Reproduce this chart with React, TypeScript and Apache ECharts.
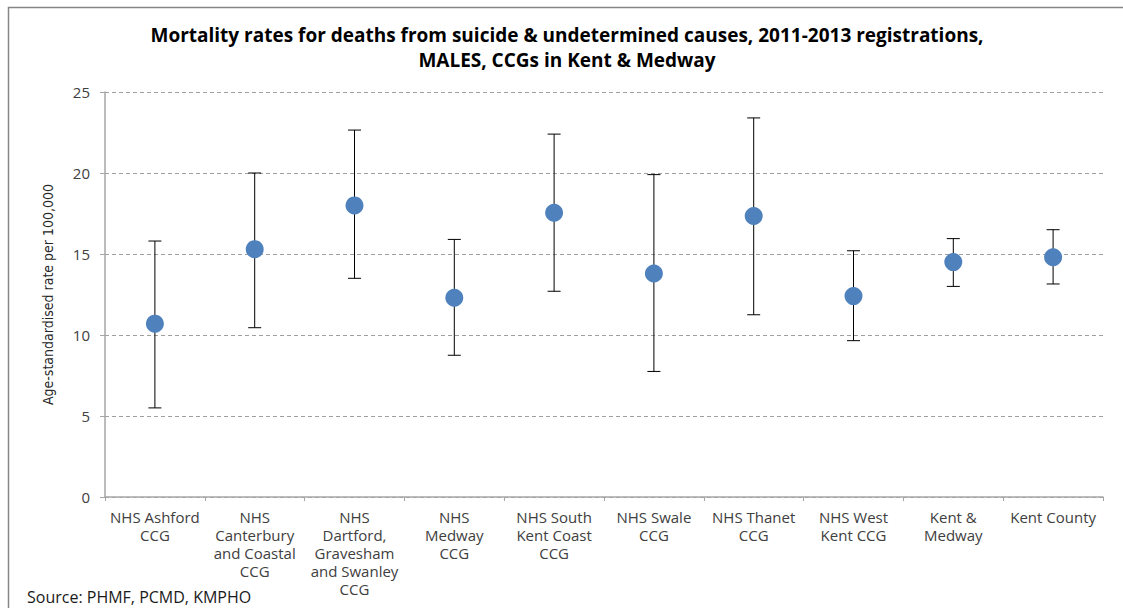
import React, { useEffect, useRef } from "react";
import * as echarts from "echarts";

const categories = [
  "NHS Ashford\nCCG",
  "NHS\nCanterbury\nand Coastal\nCCG",
  "NHS\nDartford,\nGravesham\nand Swanley\nCCG",
  "NHS\nMedway\nCCG",
  "NHS South\nKent Coast\nCCG",
  "NHS Swale\nCCG",
  "NHS Thanet\nCCG",
  "NHS West\nKent CCG",
  "Kent &\nMedway",
  "Kent County",
];
const rates = [10.7, 15.3, 18.0, 12.3, 17.55, 13.8, 17.35, 12.4, 14.5, 14.8];
const lowerCI = [5.5, 10.45, 13.5, 8.75, 12.7, 7.75, 11.25, 9.65, 13.0, 13.15];
const upperCI = [15.8, 20.0, 22.65, 15.9, 22.4, 19.9, 23.4, 15.2, 15.95, 16.5];
const yTicks = { min: 0, max: 25, interval: 5 };

const FONT = "'Open Sans', 'Liberation Sans', sans-serif";

export default function App() {
  const ref = useRef<HTMLDivElement>(null);
  useEffect(() => {
    document.body.style.margin = "0";
    const chart = echarts.init(ref.current!, null, { renderer: "svg" });
    const errData = categories.map((_, i) => [i, lowerCI[i], upperCI[i]]);
    chart.setOption({
      animation: false,
      backgroundColor: "#ffffff",
      title: {
        text: "Mortality rates for deaths from suicide & undetermined causes, 2011-2013 registrations,\nMALES, CCGs in Kent & Medway",
        left: 562,
        textAlign: "center",
        top: 17,
        textStyle: {
          fontFamily: FONT,
          fontWeight: "bold",
          fontSize: 19,
          lineHeight: 25,
          color: "#000000",
        },
      },
      graphic: [
        {
          type: "rect",
          shape: { x: 8.5, y: 7.5, width: 1200, height: 700 },
          style: { fill: "none", stroke: "#868686", lineWidth: 1.5 },
          silent: true,
        },
        {
          type: "text",
          left: 27,
          top: 589,
          style: {
            text: "Source: PHMF, PCMD, KMPHO",
            fontFamily: FONT,
            fontSize: 16,
            fill: "#1a1a1a",
          },
        },
      ],
      grid: { left: 105, right: 20, top: 92, bottom: 111, containLabel: false },
      xAxis: {
        type: "category",
        data: categories,
        boundaryGap: true,
        axisLine: { lineStyle: { color: "#A6A6A6", width: 1.5 } },
        axisTick: { show: true, length: 4, interval: 0, lineStyle: { color: "#A6A6A6" } },
        axisLabel: {
          interval: 0,
          fontFamily: FONT,
          fontSize: 15,
          lineHeight: 18,
          color: "#404040",
          margin: 11,
        },
        splitLine: { show: false },
      },
      yAxis: {
        type: "value",
        min: yTicks.min,
        max: yTicks.max,
        interval: yTicks.interval,
        name: "Age-standardised rate per 100,000",
        nameLocation: "middle",
        nameGap: 50,
        nameTextStyle: {
          fontFamily: "'Liberation Sans Narrow', 'DejaVu Sans Condensed', sans-serif",
          fontSize: 14,
          color: "#262626",
        },
        axisLine: { show: true, lineStyle: { color: "#A6A6A6", width: 1.5 } },
        axisTick: { show: true, length: 5, lineStyle: { color: "#A6A6A6" } },
        axisLabel: {
          fontFamily: FONT,
          fontSize: 15,
          color: "#404040",
          margin: 15,
        },
        splitLine: { show: true, lineStyle: { color: "#A0A0A0", type: [4, 3], width: 1 } },
      },
      series: [
        {
          type: "custom",
          data: errData,
          z: 2,
          renderItem: (params: any, api: any) => {
            const x = api.coord([api.value(0), 0])[0];
            const lo = api.coord([api.value(0), api.value(1)])[1];
            const hi = api.coord([api.value(0), api.value(2)])[1];
            const half = 6.5;
            const st = { stroke: "#000000", lineWidth: 1 };
            return {
              type: "group",
              children: [
                { type: "line", shape: { x1: x, y1: lo, x2: x, y2: hi }, style: st },
                { type: "line", shape: { x1: x - half, y1: hi, x2: x + half, y2: hi }, style: st },
                { type: "line", shape: { x1: x - half, y1: lo, x2: x + half, y2: lo }, style: st },
              ],
            };
          },
        },
        {
          type: "scatter",
          data: rates,
          symbol: "circle",
          symbolSize: 18,
          z: 3,
          itemStyle: { color: "#4F81BD", opacity: 1 },
        },
      ],
    });
    return () => chart.dispose();
  }, []);
  return (
    <div
      ref={ref}
      style={{ position: "fixed", left: 0, top: 0, width: 1123, height: 608 }}
    />
  );
}
